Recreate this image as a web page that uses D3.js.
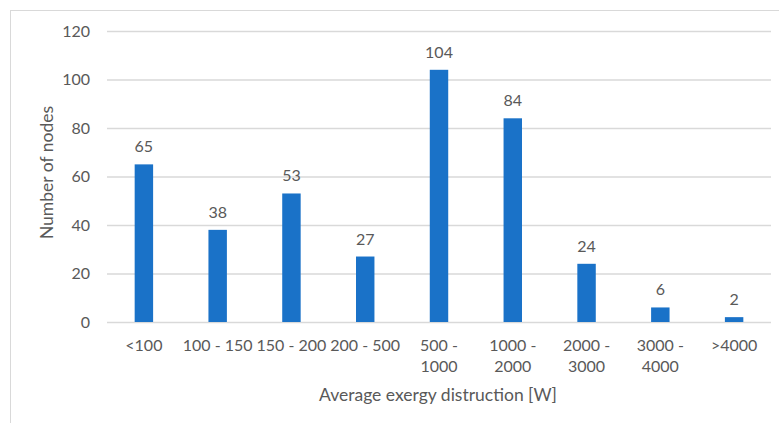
<!DOCTYPE html>
<html><head><meta charset="utf-8">
<script src="https://cdn.jsdelivr.net/npm/d3@7"></script>
<style>body{margin:0;background:#fff}svg{display:block}</style>
</head><body>
<svg id="c" width="779" height="423"></svg>
<script>
const categories = [["<100"],["100 - 150"],["150 - 200"],["200 - 500"],["500 -","1000"],["1000 -","2000"],["2000 -","3000"],["3000 -","4000"],[">4000"]];
const values = [65,38,53,27,104,84,24,6,2];
const yTicks = [0,20,40,60,80,100,120];
const xTitle = "Average exergy distruction [W]";
const yTitle = "Number of nodes";

const svg = d3.select("#c");
const font = "Lato, 'Open Sans', sans-serif";
const txt = "#595959", grid = "#D9D9D9";
const m = {l:107, r:8, t:31, b:101};
const W = 779, H = 423;

svg.append("rect").attr("x",10.5).attr("y",10.5).attr("width",W+20).attr("height",H+20)
  .attr("fill","none").attr("stroke","#D9D9D9").attr("stroke-width",1);

const x = d3.scaleBand().domain(d3.range(categories.length)).range([m.l, W-m.r]).paddingInner(0.75).paddingOuter(0.375);
const y = d3.scaleLinear().domain([0,120]).range([H-m.b, m.t]);

const yAxis = svg.append("g").attr("transform",`translate(${m.l},0)`)
  .call(d3.axisLeft(y).tickValues(yTicks).tickSize(-(W-m.r-m.l)).tickPadding(17));
yAxis.select(".domain").remove();
yAxis.selectAll(".tick line").attr("stroke",grid).attr("stroke-width",1.3);
yAxis.selectAll(".tick text").attr("fill",txt).style("font-family",font).style("font-size","16px");

svg.selectAll("rect.bar").data(values).join("rect").attr("class","bar")
  .attr("x",(d,i)=>x(i)).attr("width",x.bandwidth())
  .attr("y",d=>y(d)).attr("height",d=>y(0)-y(d)).attr("fill","#1A72C8");

svg.selectAll("text.lbl").data(values).join("text").attr("class","lbl")
  .attr("x",(d,i)=>x(i)+x.bandwidth()/2).attr("y",d=>y(d)-12)
  .attr("text-anchor","middle").attr("fill",txt).style("font-family",font).style("font-size","16px")
  .text(d=>d);

const xg = svg.append("g");
categories.forEach((lines,i)=>{
  const t = xg.append("text").attr("x",x(i)+x.bandwidth()/2).attr("y",H-m.b+29)
    .attr("text-anchor","middle").attr("fill",txt).style("font-family",font).style("font-size","16px");
  lines.forEach((s,j)=>t.append("tspan").attr("x",x(i)+x.bandwidth()/2).attr("dy",j?21:0).text(s));
});

svg.append("text").attr("x",438).attr("y",401).attr("text-anchor","middle")
  .attr("fill",txt).style("font-family",font).style("font-size","17.5px").text(xTitle);
svg.append("text").attr("transform",`translate(53,${(m.t+H-m.b)/2-4}) rotate(-90)`).attr("text-anchor","middle")
  .attr("fill",txt).style("font-family",font).style("font-size","17.5px").text(yTitle);
</script>
</body></html>
